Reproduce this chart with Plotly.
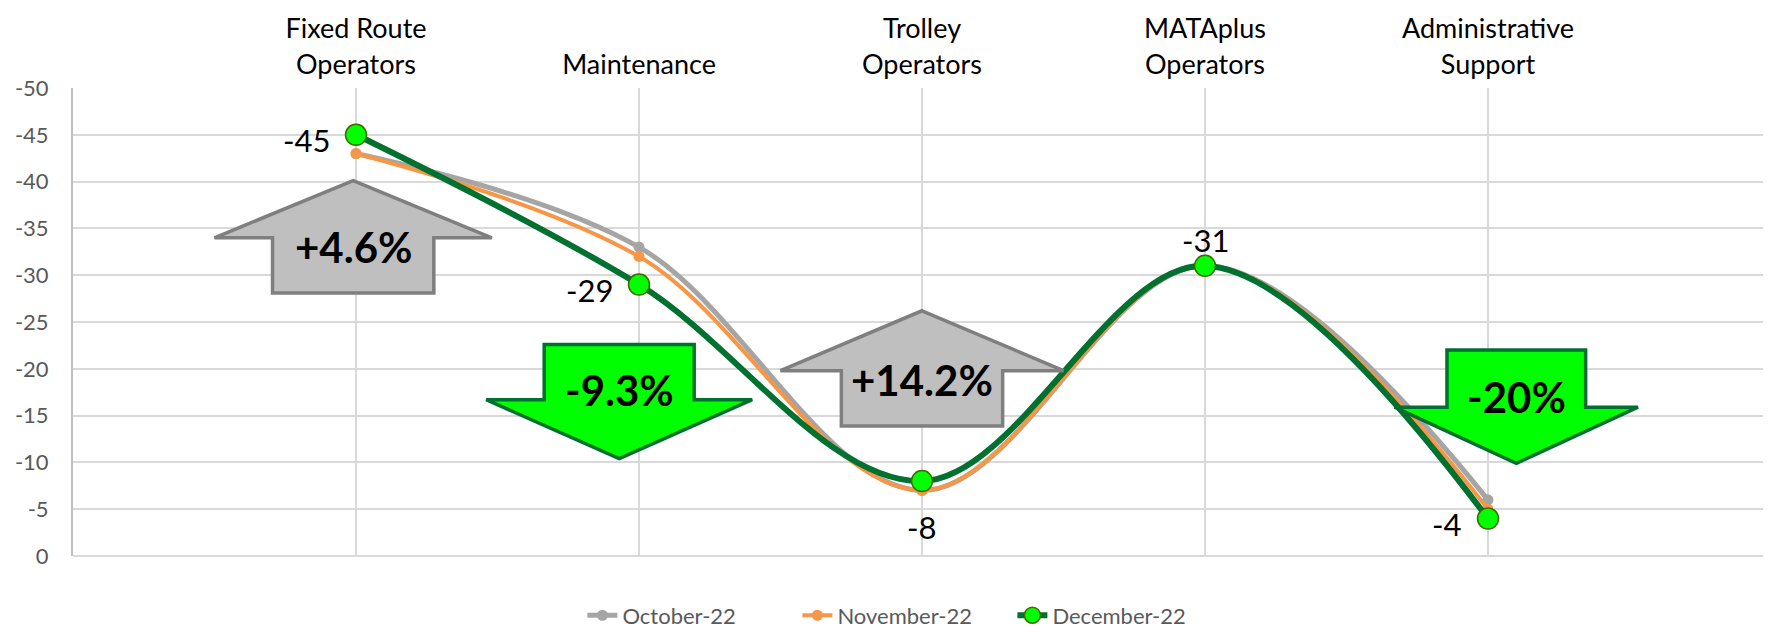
import plotly.graph_objects as go

# categories and monthly values (y axis is reversed: 0 at bottom, -50 at top)
categories = ["Fixed Route<br>Operators", "Maintenance", "Trolley<br>Operators",
              "MATAplus<br>Operators", "Administrative<br>Support"]
october = [-43, -33, -7, -31, -6]
november = [-43, -32, -7, -31, -5]
december = [-45, -29, -8, -31, -4]
dec_labels = ["-45", "-29", "-8", "-31", "-4"]
y_ticks = [0, -5, -10, -15, -20, -25, -30, -35, -40, -45, -50]

# change callouts: text, direction
callouts = ["+4.6%", "-9.3%", "+14.2%", "-20%"]
callout_up = [True, False, True, False]

FONT = "Lato, 'Open Sans', sans-serif"
GRID = "#D9D9D9"

xs = list(range(1, len(categories) + 1))

fig = go.Figure()

fig.add_trace(go.Scatter(
    x=xs, y=october, name="October-22", mode="lines+markers",
    line=dict(color="#A5A5A5", width=5, shape="spline", smoothing=1),
    marker=dict(size=11, color="#A5A5A5"),
))
fig.add_trace(go.Scatter(
    x=xs, y=november, name="November-22", mode="lines+markers",
    line=dict(color="#F79646", width=4, shape="spline", smoothing=1),
    marker=dict(size=11, color="#F79646"),
))
fig.add_trace(go.Scatter(
    x=xs, y=december, name="December-22", mode="lines+markers",
    line=dict(color="#00712F", width=6, shape="spline", smoothing=1),
    marker=dict(size=21, color="#00FF00", line=dict(color="#3D6B00", width=1.5)),
))

annotations = []
# data labels for December, offsets in pixels
label_offsets = [("right", -24, -5), ("right", -24, -5), ("center", 0, -46),
                 ("center", 0, 26), ("right", -24, -5)]
for x, y, txt, (anc, dx, dy) in zip(xs, december, dec_labels, label_offsets):
    annotations.append(dict(x=x, y=y, xref="x", yref="y", text=txt, showarrow=False,
                            xanchor=anc, yanchor="middle", xshift=dx, yshift=dy,
                            font=dict(family=FONT, size=31, color="#000000")))

# block arrows drawn as shapes in data coordinates
# (center x, tip y, wing y, end y, wing half-width, body half-width)
arrow_geo = [
    (0.99, -40.1, -34.0, -28.1, 0.49, 0.285),
    (1.93, -10.4, -16.7, -22.6, 0.47, 0.265),
    (3.00, -26.2, -19.8, -13.9, 0.50, 0.285),
    (5.10, -9.9, -15.9, -22.0, 0.43, 0.245),
]
shapes = []
for (cx, tip, wing, end, wh, bh), txt, up in zip(arrow_geo, callouts, callout_up):
    path = (f"M {cx},{tip} L {cx + wh},{wing} L {cx + bh},{wing} L {cx + bh},{end} "
            f"L {cx - bh},{end} L {cx - bh},{wing} L {cx - wh},{wing} Z")
    fill, edge = ("#BFBFBF", "#7F7F7F") if up else ("#00FF00", "#00702E")
    shapes.append(dict(type="path", path=path, xref="x", yref="y",
                       fillcolor=fill, line=dict(color=edge, width=3.5), layer="above"))
    ty = wing + 0.17 * (end - wing) if up else end + 0.82 * (wing - end)
    annotations.append(dict(x=cx, y=ty, xref="x", yref="y", text=f"<b>{txt}</b>",
                            showarrow=False,
                            font=dict(family=FONT, size=42, color="#000000")))

fig.update_layout(
    width=1771, height=636,
    paper_bgcolor="white", plot_bgcolor="white",
    margin=dict(l=65, r=8, t=80, b=76),
    font=dict(family=FONT, color="#595959"),
    shapes=shapes, annotations=annotations,
    showlegend=True,
    legend=dict(orientation="h", x=0.300, xanchor="left", y=-0.127, yanchor="middle",
                font=dict(family=FONT, size=22, color="#595959"),
                entrywidth=170, entrywidthmode="pixels",
                bgcolor="rgba(0,0,0,0)"),
    xaxis=dict(
        range=[0, len(categories) + 1], side="top", automargin=False,
        tickvals=[0] + xs + [len(categories) + 1],
        ticktext=[""] + categories + [""],
        tickfont=dict(family=FONT, size=27, color="#000000"),
        ticklabelstandoff=8,
        showgrid=True, gridcolor=GRID, gridwidth=2,
        zeroline=False, showline=False, ticks="",
    ),
    yaxis=dict(
        range=[0, -50], tickvals=y_ticks, ticktext=[str(v) for v in y_ticks],
        tickfont=dict(family=FONT, size=22, color="#595959"),
        ticklabelstandoff=18, automargin=False,
        showgrid=True, gridcolor=GRID, gridwidth=2,
        zeroline=True, zerolinecolor=GRID, zerolinewidth=2,
        showline=True, linecolor="#BFBFBF", linewidth=2, ticks="",
    ),
)

fig.write_html("out.html")
